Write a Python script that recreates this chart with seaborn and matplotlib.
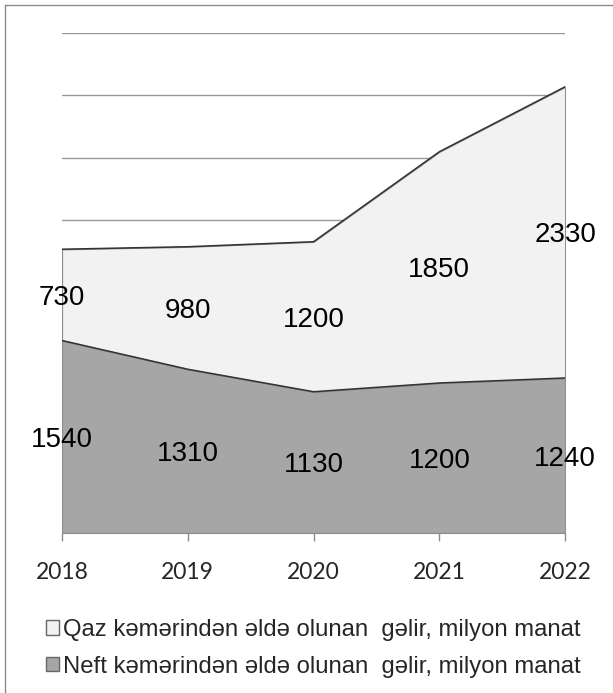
import matplotlib.pyplot as plt
import seaborn as sns
from matplotlib.patches import Patch

# data
years = [2018, 2019, 2020, 2021, 2022]
neft = [1540, 1310, 1130, 1200, 1240]
qaz = [730, 980, 1200, 1850, 2330]
neft_label = "Neft kəmərindən əldə olunan  gəlir, milyon manat"
qaz_label = "Qaz kəmərindən əldə olunan  gəlir, milyon manat"

sns.set_style("white")
plt.rcParams["font.family"] = ["Liberation Sans", "DejaVu Sans"]

neft_color = "#a6a6a6"
qaz_color = "#f2f2f2"

fig = plt.figure(figsize=(6.13, 6.93), dpi=100)
ax = fig.add_axes([0.101, 0.2309, 0.821, 0.7215])

# gridlines under the areas
for v in range(500, 4001, 500):
    ax.axhline(v, color="#999999", lw=1, zorder=0)

ax.stackplot(years, neft, qaz, colors=[neft_color, qaz_color],
             edgecolor="#8c8c8c", linewidth=1, zorder=1)
tops_q = [n + q for n, q in zip(neft, qaz)]
ax.plot(years, neft, color="#333333", lw=1.1, zorder=2)
ax.plot(years, tops_q, color="#333333", lw=1.1, zorder=2)

# labels in the middle of each band
for x, n, q in zip(years, neft, qaz):
    ax.text(x, n / 2 - 25, str(n), ha="center", va="center", fontsize=20,
            color="black", zorder=3, clip_on=False)
    ax.text(x, n + q / 2 - 25, str(q), ha="center", va="center", fontsize=20,
            color="black", zorder=3, clip_on=False)

ax.set_xlim(2018, 2022)
ax.set_ylim(0, 4000)
ax.set_yticks([])
ax.set_xticks(years)
ax.set_xticklabels([str(y) for y in years], fontsize=16.5, family=["Lato", "DejaVu Sans"])
ax.tick_params(axis="x", length=6, width=1, color="#8c8c8c", direction="out",
               pad=15, bottom=True)
sns.despine(ax=ax, left=True, top=True, right=True)
ax.spines["bottom"].set_color("#8c8c8c")
ax.spines["bottom"].set_zorder(0)

handles = [Patch(facecolor=qaz_color, edgecolor="#666666", label=qaz_label),
           Patch(facecolor=neft_color, edgecolor="#666666", label=neft_label)]
fig.legend(handles=handles, loc="upper left", bbox_to_anchor=(0.075, 0.107),
           frameon=False, fontsize=17.2, handlelength=0.55, handleheight=0.55,
           handletextpad=0.15, labelspacing=0.62, borderaxespad=0, borderpad=0)

# outer frame of the picture
fig.add_artist(plt.Line2D([5 / 613, 5 / 613], [0, 1 - 5 / 693],
                          transform=fig.transFigure, color="#8c8c8c", lw=1))
fig.add_artist(plt.Line2D([5 / 613, 1], [1 - 5 / 693, 1 - 5 / 693],
                          transform=fig.transFigure, color="#8c8c8c", lw=1))

fig.savefig("out.png", dpi=100)
